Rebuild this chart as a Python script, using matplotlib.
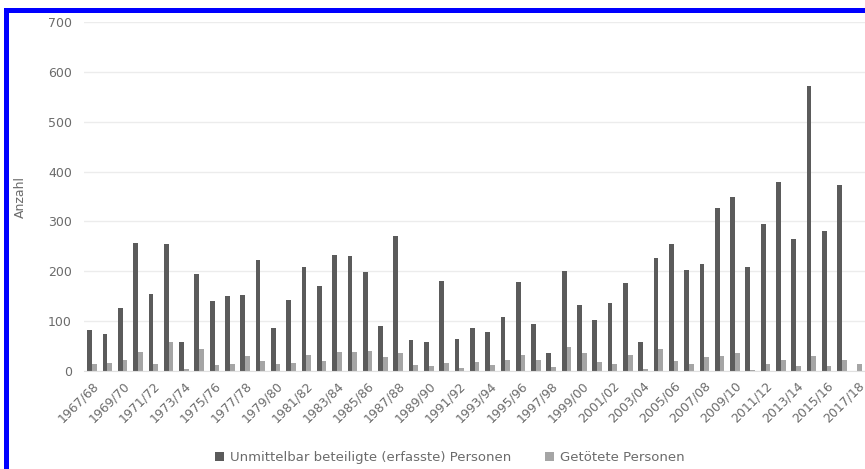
import numpy as np
import matplotlib
matplotlib.use("Agg")
import matplotlib.pyplot as plt
from matplotlib.patches import Rectangle

# seasons 1967/68 .. 2017/18
seasons = ["%d/%02d" % (y, (y + 1) % 100) for y in range(1967, 2018)]

# Unmittelbar beteiligte (erfasste) Personen
beteiligte = [82, 74, 127, 257, 155, 255, 59, 195, 140, 150,
              152, 223, 87, 142, 209, 170, 232, 230, 199, 91,
              270, 62, 59, 180, 64, 87, 79, 108, 179, 95,
              36, 200, 132, 103, 136, 177, 59, 226, 255, 203,
              215, 327, 350, 209, 294, 380, 265, 572, 281, 374,
              0]
# Getötete Personen
getoetete = [15, 17, 22, 39, 15, 59, 3, 44, 12, 13,
             30, 20, 13, 17, 32, 21, 39, 39, 41, 29,
             36, 11, 10, 17, 5, 19, 11, 22, 32, 23,
             7, 49, 36, 19, 13, 32, 4, 44, 20, 15,
             28, 30, 36, 1, 15, 23, 10, 30, 10, 22,
             14]

dark = "#5b5b5b"
light = "#a5a5a5"
txt = "#6b6b6b"

fig = plt.figure(figsize=(8.65, 4.69), dpi=100)
ax = fig.add_axes([0.0976, 0.209, 0.9024, 0.744])

x = np.arange(len(seasons))
w = 0.31
ax.bar(x - w/2, beteiligte, w, color=dark, label="Unmittelbar beteiligte (erfasste) Personen", zorder=2)
ax.bar(x + w/2, getoetete, w, color=light, label="Getötete Personen", zorder=2)

ax.set_xlim(-0.5, len(seasons) - 0.5)
ax.set_ylim(0, 700)
ax.set_yticks(range(0, 701, 100))
ax.yaxis.grid(True, color="#ececec", linewidth=1, zorder=0)
ax.set_axisbelow(True)
for s in ["top", "right", "left"]:
    ax.spines[s].set_visible(False)
ax.spines["bottom"].set_color("#e0e0e0")

ax.set_xticks(x[::2])
ax.set_xticklabels(seasons[::2], rotation=45, ha="right", rotation_mode="anchor",
                   fontsize=9, color=txt)
ax.tick_params(axis="both", length=0, colors=txt, labelsize=9)
ax.tick_params(axis="y", pad=9)
ax.tick_params(axis="x", pad=6)
ax.set_ylabel("Anzahl", color=txt, fontsize=9)
ax.yaxis.set_label_coords(-0.074, 0.5)

fig.legend(loc="lower center", bbox_to_anchor=(0.52, -0.015), ncol=2, frameon=False,
           fontsize=9.5, labelcolor=txt, handlelength=0.7, handleheight=0.7,
           columnspacing=2.5, handletextpad=0.5)

# blue frame around the picture
fig.patches.append(Rectangle((6/865, -0.1), 2.0, (469 - 10)/469 + 0.1, transform=fig.transFigure,
                             fill=False, edgecolor="#0000ff", linewidth=3.6, clip_on=False))

fig.savefig("out.png", dpi=100)
